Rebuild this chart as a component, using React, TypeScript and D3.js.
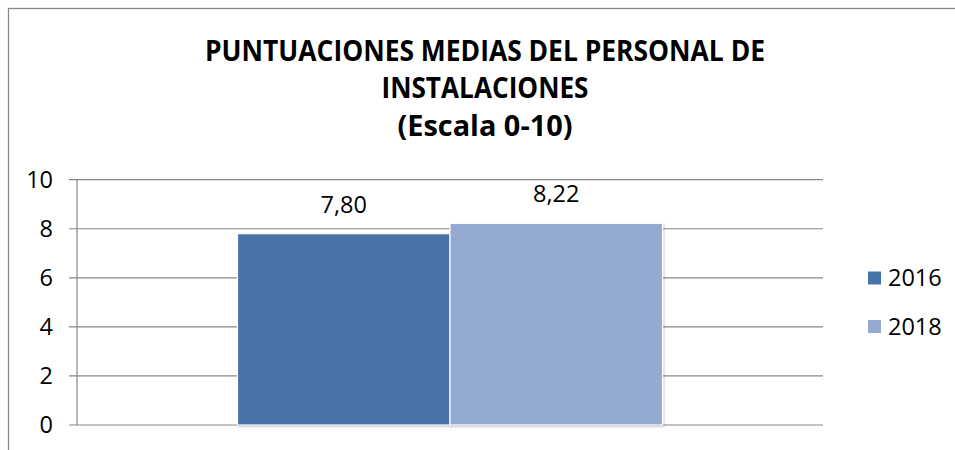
import React from "react";
import * as d3 from "d3";

const categories = ["Personal de instalaciones"];
const seriesNames = ["2016", "2018"];
const values2016 = [7.8];
const values2018 = [8.22];
const yTicks = [0, 2, 4, 6, 8, 10];
const titleLines = ["PUNTUACIONES MEDIAS DEL PERSONAL DE", "INSTALACIONES", "(Escala 0-10)"];
const colors = ["#4673A8", "#95AAD1"];

const W = 955;
const H = 450;
const plot = { left: 77, right: 823, top: 179.7, bottom: 425 };
const FONT = "'Open Sans', 'Noto Sans', sans-serif";

export default function App() {
  const y = d3.scaleLinear().domain([0, 10]).range([plot.bottom, plot.top]);
  const x0 = d3
    .scaleBand<string>()
    .domain(categories)
    .range([plot.left, plot.right])
    .paddingInner(0)
    .paddingOuter(0.3776);
  const x1 = d3.scaleBand<string>().domain(seriesNames).range([0, x0.bandwidth()]).padding(0);
  const series = [values2016, values2018];
  const fmt = (v: number) => d3.format(".2f")(v).replace(".", ",");
  const titleWidths = [560, 207, 175];

  return (
    <svg
      width={W}
      height={H}
      style={{ position: "absolute", left: 0, top: 0, background: "#fff" }}
      fontFamily={FONT}
    >
      <defs>
        <filter id="sh" x="-5%" y="-5%" width="110%" height="110%">
          <feDropShadow dx="1" dy="1" stdDeviation="1" floodColor="#000" floodOpacity="0.25" />
        </filter>
      </defs>
      <rect x={0} y={0} width={W} height={H} fill="#fff" />
      <rect x={8.5} y={8.5} width={1200} height={1200} fill="none" stroke="#888" strokeWidth={1.3} />

      {titleLines.map((t, i) => (
        <text
          key={i}
          x={485}
          y={60.5 + i * 37.5}
          textAnchor="middle"
          fontWeight="bold"
          fontSize={29}
          fill="#000"
          textLength={titleWidths[i]}
          lengthAdjust="spacingAndGlyphs"
        >
          {t}
        </text>
      ))}

      {yTicks.map((t) => (
        <g key={t}>
          <line x1={69} x2={plot.right} y1={y(t)} y2={y(t)} stroke="#878787" strokeWidth={1.2} />
          <text x={53} y={y(t)} dy="0.35em" textAnchor="end" fontSize={23.5} fill="#000">
            {t}
          </text>
        </g>
      ))}
      <line x1={plot.left} x2={plot.left} y1={plot.top} y2={plot.bottom} stroke="#878787" strokeWidth={1.2} />

      {categories.map((c, ci) => (
        <g key={c} transform={`translate(${x0(c)},0)`}>
          {seriesNames.map((s, si) => {
            const v = series[si][ci];
            const bx = x1(s)!;
            const bw = x1.bandwidth();
            return (
              <g key={s}>
                <rect
                  x={bx}
                  y={y(v)}
                  width={bw}
                  height={y(0) - y(v)}
                  fill={colors[si]}
                  stroke="#fff"
                  strokeWidth={1.2}
                  filter="url(#sh)"
                />
                <text x={bx + bw / 2} y={y(v) - 21} textAnchor="middle" fontSize={23.5} fill="#000">
                  {fmt(v)}
                </text>
              </g>
            );
          })}
        </g>
      ))}

      {seriesNames.map((s, i) => (
        <g key={s} transform={`translate(868,${278 + i * 48.5})`}>
          <rect x={0} y={-6.5} width={13} height={13} fill={colors[i]} />
          <text x={20} y={0} dy="0.35em" fontSize={23.5} fill="#000">
            {s}
          </text>
        </g>
      ))}
    </svg>
  );
}
